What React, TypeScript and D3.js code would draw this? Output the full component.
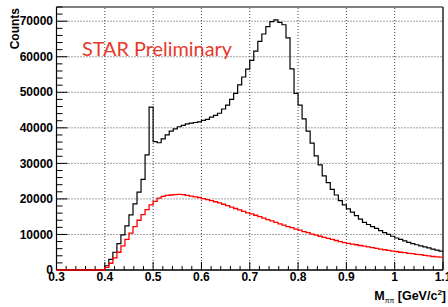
import * as d3 from "d3";

// bin edges: 0.3 -> 1.1, 96 bins (width 1/120 GeV)
const xMin = 0.3
const xMax = 1.1
const nBins = 96

// black: all pairs
const totalCounts = [
     0, 0, 0, 0, 0, 0, 0, 0, 0, 0, 0, 0,
     1200, 3000, 5000, 7400, 9900, 12400, 15500, 18600, 21900, 25500, 32400, 45800,
     36100, 35800, 36900, 38000, 39100, 39700, 40300, 40700, 41100, 41300, 41500, 41700,
     42100, 42400, 43000, 43500, 44100, 45300, 46400, 48000, 49700, 52100, 54300, 56500,
     59000, 61600, 64300, 66400, 68500, 69900, 70400, 69700, 69000, 65300, 56600, 49700,
     46400, 42500, 39100, 35700, 32100, 29600, 26500, 24600, 22700, 21100, 19500, 18300,
     17200, 16300, 15300, 14300, 13400, 12800, 12200, 11700, 11100, 10500, 10000, 9500,
     9000, 8600, 8200, 7800, 7400, 7100, 6800, 6500, 6200, 5900, 5600, 5300,
]

// red: background estimate
const bgCounts = [
     0, 0, 0, 0, 0, 0, 0, 0, 0, 0, 0, 0,
     750, 1900, 3400, 5000, 6800, 8600, 10400, 12200, 14000, 15600, 17000, 18300,
     19300, 20200, 20700, 21000, 21100, 21200, 21300, 21200, 21000, 20800, 20600, 20400,
     20100, 19800, 19500, 19200, 18900, 18500, 18100, 17700, 17300, 16900, 16500, 16100,
     15800, 15400, 15000, 14600, 14200, 13800, 13400, 13000, 12600, 12200, 11900, 11500,
     11200, 10800, 10500, 10100, 9800, 9500, 9200, 8900, 8600, 8300, 8000, 7700,
     7500, 7300, 7100, 6900, 6700, 6500, 6300, 6100, 5900, 5700, 5500, 5300,
     5200, 5000, 4900, 4700, 4600, 4400, 4300, 4100, 4000, 3800, 3700, 3600,
]

const xMajor = [0.3, 0.4, 0.5, 0.6, 0.7, 0.8, 0.9, 1.0, 1.1]
const yMajor = [0, 10000, 20000, 30000, 40000, 50000, 60000, 70000]

const W = 448
const H = 307
const font = "'Liberation Sans', Arial, Helvetica, sans-serif"

export default function App() {
     const x = d3.scaleLinear().domain([xMin, xMax]).range([56.5, 443])
     const y = d3.scaleLinear().domain([0, 74000]).range([270, 7])
     const bw = (xMax - xMin) / nBins

     const histPath = (vals: number[]) => {
          const pts: [number, number][] = vals.map((v, i) => [xMin + i * bw, v])
          pts.push([xMax, vals[vals.length - 1]])
          return d3.line<[number, number]>()
               .x(d => x(d[0]))
               .y(d => y(d[1]))
               .curve(d3.curveStepAfter)(pts) as string
     }

     const xMinor = d3.range(0, 41).map(i => xMin + i * 0.02)
     const yMinor = d3.range(0, 38).map(i => i * 2000)

     return (
          <div style={{ position: "absolute", left: 0, top: 0 }}>
               <svg width={W} height={H} style={{ display: "block", background: "#fff" }}>
                    {/* grid */}
                    {xMajor.slice(1, -1).map(v => (
                         <line key={"gx" + v} x1={x(v)} x2={x(v)} y1={y.range()[0]} y2={y.range()[1]}
                              stroke="#444" strokeWidth={1} strokeDasharray="1 2" />
                    ))}
                    {yMajor.slice(1).map(v => (
                         <line key={"gy" + v} x1={x(xMin)} x2={x(xMax)} y1={y(v)} y2={y(v)}
                              stroke="#444" strokeWidth={1} strokeDasharray="1 2" />
                    ))}

                    {/* frame */}
                    <line x1={x(xMin)} x2={x(xMax)} y1={7} y2={7} stroke="#000" strokeWidth={1.2} />
                    <line x1={x(xMax)} x2={x(xMax)} y1={7} y2={270} stroke="#333" strokeWidth={1.6} />
                    <line x1={x(xMin)} x2={x(xMin)} y1={7} y2={270} stroke="#000" strokeWidth={1.2} />
                    <line x1={x(xMin)} x2={x(xMax)} y1={270} y2={270} stroke="#000" strokeWidth={1.4} />

                    {/* y ticks */}
                    {yMinor.map(v => {
                         const major = v % 10000 === 0
                         return <line key={"ty" + v} x1={x(xMin)} x2={x(xMin) + (major ? 11 : 6)}
                              y1={y(v)} y2={y(v)} stroke="#000" strokeWidth={1} />
                    })}
                    {/* x ticks */}
                    {xMinor.map((v, i) => (
                         <line key={"tx" + i} x1={x(v)} x2={x(v)} y1={270} y2={270 - (i % 5 === 0 ? 8 : 4)}
                              stroke="#000" strokeWidth={1} />
                    ))}

                    {/* histograms */}
                    <path d={histPath(totalCounts)} fill="none" stroke="#000" strokeWidth={1.2} />
                    <path d={histPath(bgCounts)} fill="none" stroke="#ff0000" strokeWidth={1.3} />

                    {/* tick labels */}
                    {yMajor.map(v => (
                         <text key={"ly" + v} x={53} y={y(v)} dy="0.35em" textAnchor="end"
                              fontFamily={font} fontWeight="bold" fontSize={12}>{v}</text>
                    ))}
                    {xMajor.map(v => (
                         <text key={"lx" + v} x={x(v)} y={281} textAnchor="middle"
                              fontFamily={font} fontWeight="bold" fontSize={12}>{String(+v.toFixed(1))}</text>
                    ))}

                    {/* axis titles */}
                    <text transform="translate(19,8) rotate(-90)" textAnchor="end"
                         fontFamily={font} fontWeight="bold" fontSize={12}>Counts</text>
                    <text x={446} y={300} textAnchor="end" fontFamily={font} fontWeight="bold" fontSize={12.5}>
                         M<tspan fontSize={7} fontWeight="normal" dy={3}>ππ</tspan>
                         <tspan dy={-3}> [GeV/c</tspan>
                         <tspan fontSize={8} dy={-5}>2</tspan>
                         <tspan dy={5}>]</tspan>
                    </text>

                    <text x={82} y={56} fill="#e8392b" fontFamily="Lato, 'Open Sans', sans-serif" fontSize={19}
                         textLength={150} lengthAdjust="spacingAndGlyphs">STAR Preliminary</text>
               </svg>
          </div>
     )
}
